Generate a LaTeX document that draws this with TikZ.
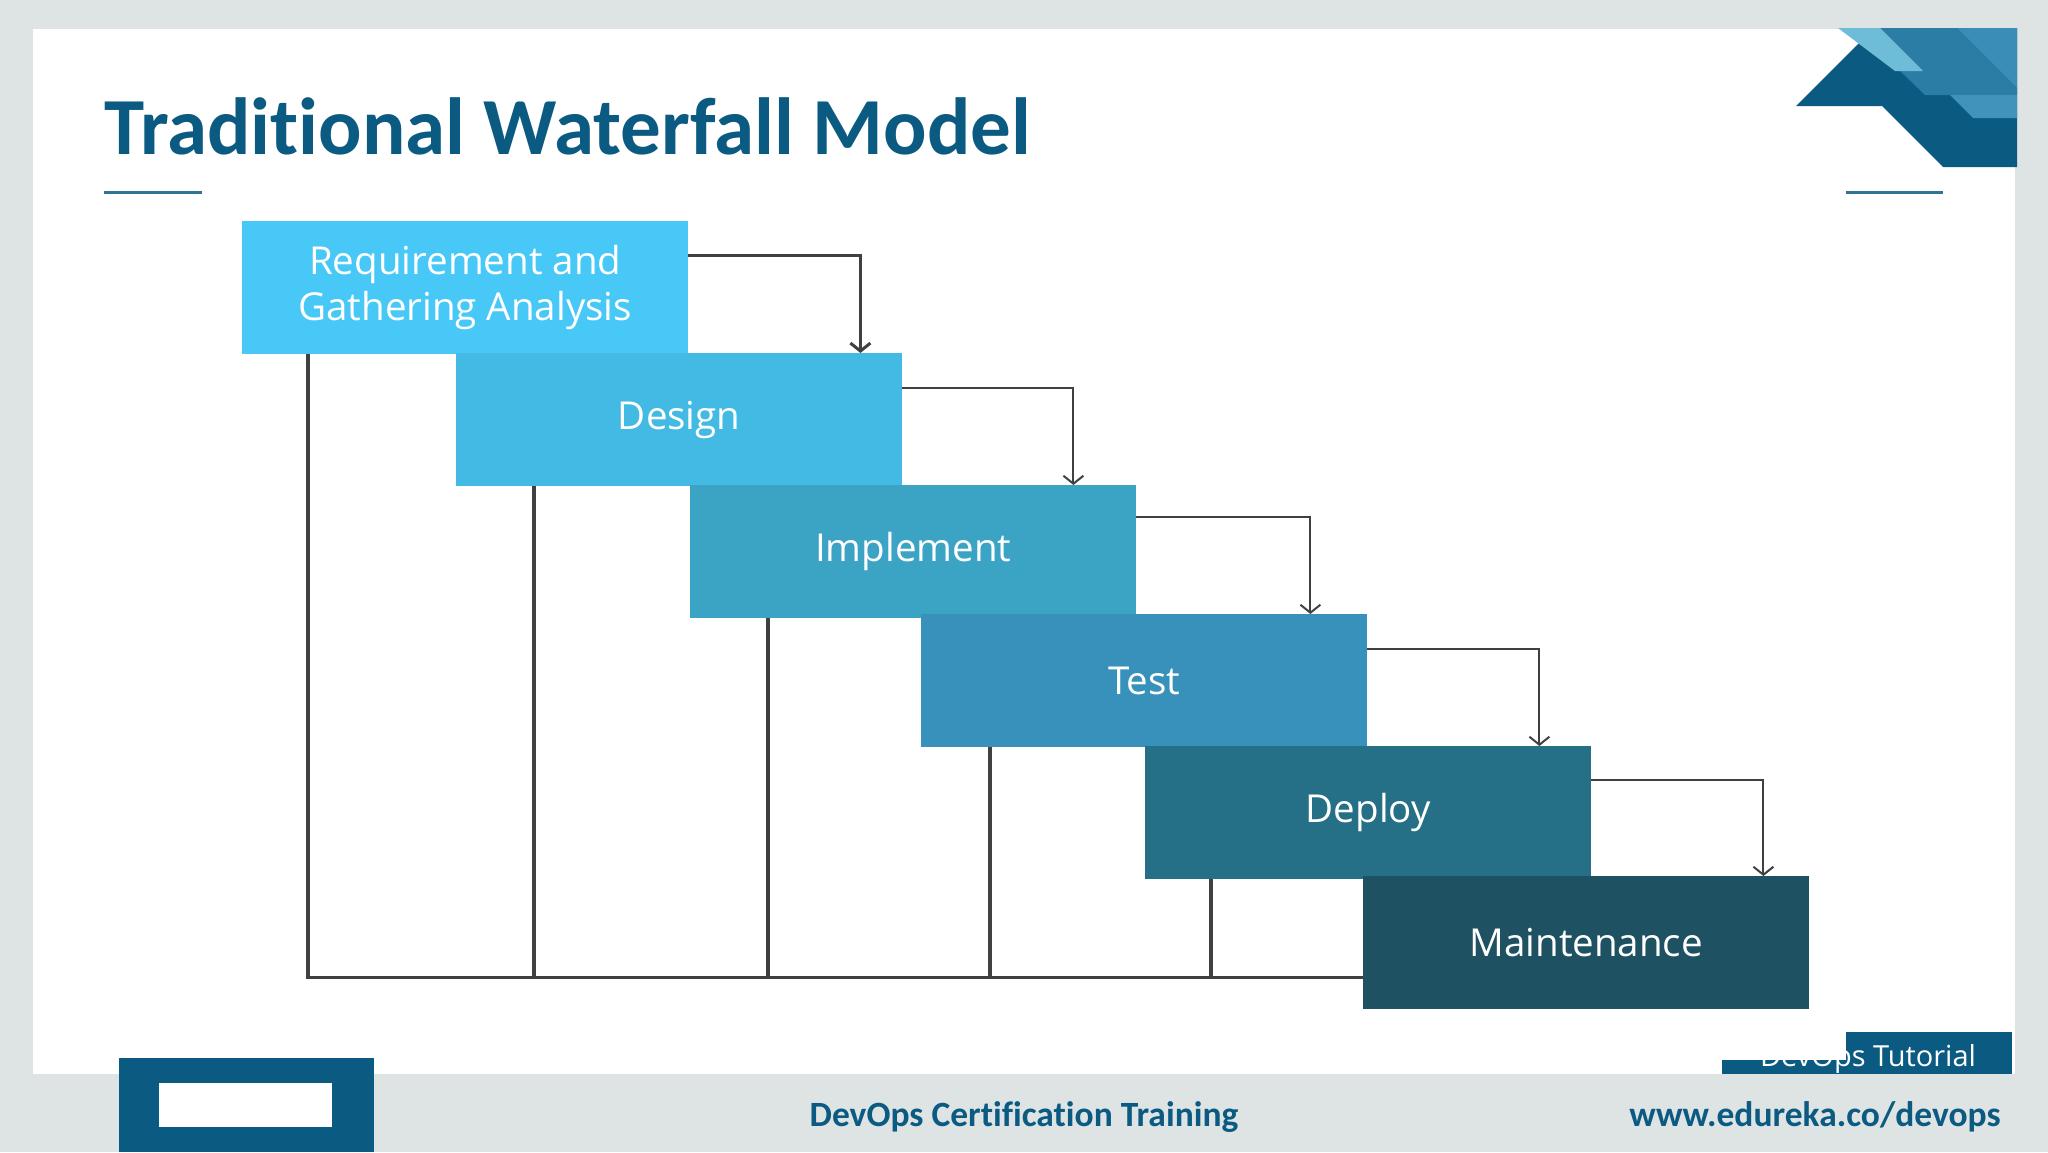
\documentclass[tikz,border=0pt]{standalone}
\usepackage{fontspec}
\setmainfont{Open Sans}
\newfontfamily\calfont[Ligatures=NoCommon]{Carlito}
\usetikzlibrary{arrows.meta,calc}
\definecolor{edu}{HTML}{0B5A82}
\definecolor{slidegray}{HTML}{DEE3E3}
\definecolor{wire}{HTML}{404040}
\definecolor{stepA}{HTML}{48C8F7}
\definecolor{stepB}{HTML}{42BAE3}
\definecolor{stepC}{HTML}{3BA4C4}
\definecolor{stepD}{HTML}{3791BA}
\definecolor{stepE}{HTML}{267087}
\definecolor{stepF}{HTML}{1E5161}
\definecolor{glassA}{HTML}{6FBCD8}
\definecolor{glassB}{HTML}{2B7DA6}
\definecolor{glassC}{HTML}{3A8DB6}
\definecolor{glassD}{HTML}{4193BB}

\begin{document}
\begin{tikzpicture}[x=1pt,y=-1pt,
  box/.style={anchor=north west,minimum width=446pt,minimum height=133pt,inner sep=0pt,
    text=white,align=center,font=\fontsize{38.5}{46}\selectfont},
  flow/.style={draw=wire,line width=2pt,-{Straight Barb[length=8pt,width=20pt]}},
  back/.style={draw=wire,line width=3.5pt},
  foot/.style={font=\calfont\bfseries\fontsize{35.5}{40}\selectfont,text=edu,inner sep=0pt,anchor=base}]

%% slide background
\useasboundingbox (0,0) rectangle (2048,1152);
\fill[slidegray] (0,0) rectangle (2048,1152);
\fill[white] (33,29) rectangle (2015,1074);

%% corner ornament
\fill[edu] (1796,106) -- (1874,28) -- (2017,28) -- (2017,167) -- (1943,167) -- (1882,106) -- cycle;
\fill[glassB] (1880,28) -- (1957,28) -- (2017,88) -- (2017,95) -- (1925,95) -- (1868,40) -- cycle;
\fill[glassC] (1957,28) -- (2017,28) -- (2017,88) -- cycle;
\fill[glassA] (1838,28) -- (1880,28) -- (1923,71) -- (1895,71) -- cycle;
\fill[glassD] (1950,95) -- (2017,95) -- (2017,118) -- (1973,118) -- cycle;

%% title and rules
\node[anchor=base west,inner sep=0pt,text=edu,font=\calfont\bfseries\fontsize{81}{90}\selectfont] (title) at (104,154) {Traditional Waterfall Model};
\draw[edu!85,line width=3pt] (104,192) -- (202,192);
\draw[edu!85,line width=3pt] (1846,192) -- (1943,192);

%% the phases
\node[box,fill=stepA] (req) at (242,221) {Requirement and\\Gathering Analysis};
\node[box,fill=stepB] (design) at (456,353) {Design};
\node[box,fill=stepC] (impl) at (690,485) {Implement};
\node[box,fill=stepD] (test) at (921,614) {Test};
\node[box,fill=stepE] (deploy) at (1145,746) {Deploy};
\node[box,fill=stepF] (maint) at (1363,876) {Maintenance};

%% forward arrows
\draw[flow,line width=3pt] ([yshift=-34pt]req.north east) -| ([xshift=-42pt]design.north east);
\draw[flow] ([yshift=-35pt]design.north east) -| ([xshift=-63pt]impl.north east);
\draw[flow] ([yshift=-32pt]impl.north east) -| ([xshift=-57pt]test.north east);
\draw[flow] ([yshift=-35pt]test.north east) -| ([xshift=-52pt]deploy.north east);
\draw[flow] ([yshift=-34pt]deploy.north east) -| ([xshift=-46pt]maint.north east);

%% lines back to every phase
\coordinate (fb) at ([yshift=-35pt]maint.west);
\coordinate (up1) at ([xshift=66pt]req.south west);
\coordinate (up2) at ([xshift=78pt]design.south west);
\coordinate (up3) at ([xshift=78pt]impl.south west);
\coordinate (up4) at ([xshift=69pt]test.south west);
\coordinate (up5) at ([xshift=66pt]deploy.south west);
\draw[back] (fb) -- (fb -| up1) -- (up1);
\foreach \c in {up2,up3,up4,up5}
  \draw[back] (\c) -- (\c |- fb);

%% footer
\fill[edu] (119,1058) rectangle (374,1152);
\fill[white] (159,1083) rectangle (332,1127);
\node[foot] (course) at (1024,1126) {DevOps Certification Training};
\node[foot] (site) at (1815,1126) {www.edureka.co/devops};
\begin{scope}
  \clip (1722,1060) -- (1846,1060) -- (1846,1032) -- (2012,1032) -- (2012,1074) -- (1722,1074) -- cycle;
  \fill[edu] (1722,1032) rectangle (2012,1074);
  \node[anchor=base,text=white,inner sep=0pt,font=\fontsize{29}{34}\selectfont] (tut) at (1868,1066) {DevOps Tutorial};
\end{scope}
\end{tikzpicture}
\end{document}
